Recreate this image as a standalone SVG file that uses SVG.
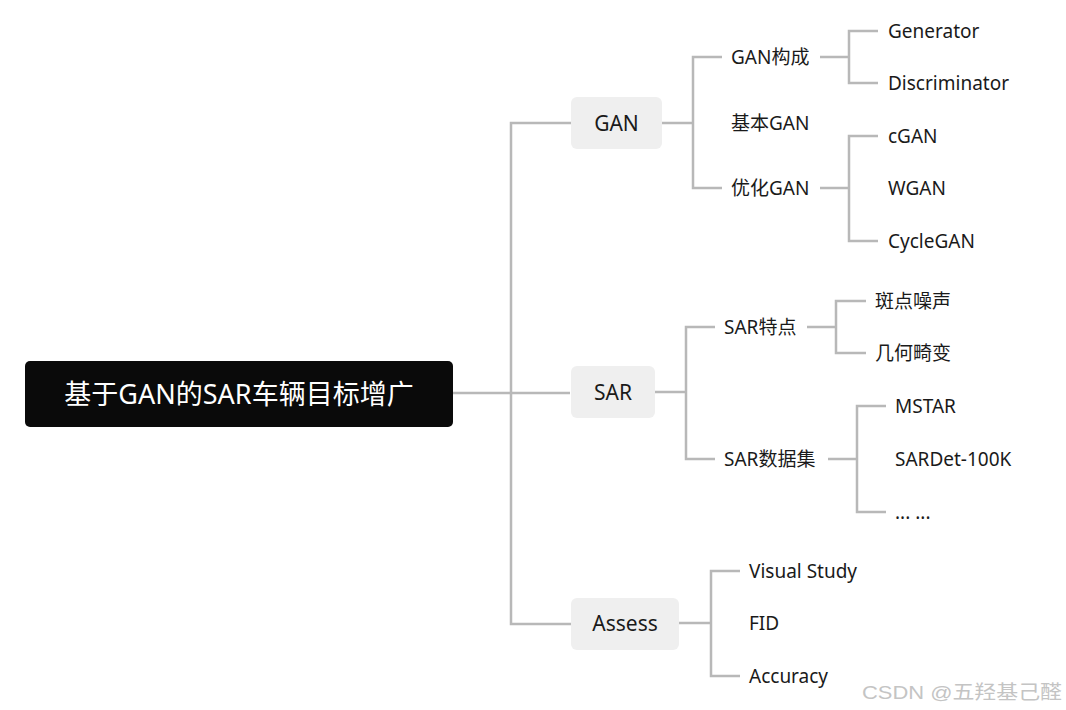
<svg xmlns="http://www.w3.org/2000/svg" width="1066" height="710" viewBox="0 0 1066 710">
<style>
.ln{fill:none;stroke:#b8b8b8;stroke-width:2.5}
.box{fill:#efefef}
.t{font-family:"Noto Sans","Noto Sans CJK SC",sans-serif;fill:#1a1a1a;dominant-baseline:central}
.t2{font-size:21px;text-anchor:middle}
.t3{font-size:19px}
</style>
<rect width="1066" height="710" fill="#ffffff"/>
<g id="connectors">
<path class="ln" d="M453 393H570"/>
<path class="ln" d="M571 123H511V624H571"/>
<path class="ln" d="M662 123H693M722 57H693V188H722"/>
<path class="ln" d="M820 57H849M878 31H849V83H878"/>
<path class="ln" d="M820 188H849M878 136H849V241H878"/>
<path class="ln" d="M655 392H686M715 327H686V459H715"/>
<path class="ln" d="M807 327H836M866 301H836V353H866"/>
<path class="ln" d="M828 459H857M886 406H857V512H886"/>
<path class="ln" d="M679 623H711M740 571H711V676H740"/>
</g>
<g id="root">
<rect x="25" y="361" width="428" height="66" rx="5" fill="#0a0a0a"/>
<text class="t" x="239" y="393" font-size="27" text-anchor="middle" style="fill:#ffffff">基于GAN的SAR车辆目标增广</text>
</g>
<g id="gan">
<rect class="box" x="571" y="97" width="91" height="52" rx="6"/>
<text class="t t2" x="616.5" y="123">GAN</text>
</g>
<g id="sar">
<rect class="box" x="571" y="366" width="84" height="52" rx="6"/>
<text class="t t2" x="613" y="392">SAR</text>
</g>
<g id="assess">
<rect class="box" x="571" y="598" width="108" height="52" rx="6"/>
<text class="t t2" x="625" y="623">Assess</text>
</g>
<g id="gan-goucheng"><text class="t t3" x="731" y="57">GAN构成</text></g>
<g id="gan-basic"><text class="t t3" x="731" y="123">基本GAN</text></g>
<g id="gan-opt"><text class="t t3" x="731" y="188">优化GAN</text></g>
<g id="generator"><text class="t t3" x="888" y="31">Generator</text></g>
<g id="discriminator"><text class="t t3" x="888" y="83">Discriminator</text></g>
<g id="cgan"><text class="t t3" x="888" y="136">cGAN</text></g>
<g id="wgan"><text class="t t3" x="888" y="188">WGAN</text></g>
<g id="cyclegan"><text class="t t3" x="888" y="241">CycleGAN</text></g>
<g id="sar-feature"><text class="t t3" x="724" y="327">SAR特点</text></g>
<g id="sar-dataset"><text class="t t3" x="724" y="459">SAR数据集</text></g>
<g id="speckle"><text class="t t3" x="875" y="301">斑点噪声</text></g>
<g id="distortion"><text class="t t3" x="875" y="353">几何畸变</text></g>
<g id="mstar"><text class="t t3" x="895" y="406">MSTAR</text></g>
<g id="sardet"><text class="t t3" x="895" y="459">SARDet-100K</text></g>
<g id="etc"><text class="t t3" x="895" y="512">... ...</text></g>
<g id="visual"><text class="t t3" x="749" y="571">Visual Study</text></g>
<g id="fid"><text class="t t3" x="749" y="623">FID</text></g>
<g id="accuracy"><text class="t t3" x="749" y="676">Accuracy</text></g>
<text x="862" y="692" font-family="'Liberation Sans','Noto Sans CJK SC',sans-serif" font-size="19" fill="#c4c4c4" textLength="200" lengthAdjust="spacingAndGlyphs" dominant-baseline="central">CSDN @五羟基己醛</text>
</svg>
